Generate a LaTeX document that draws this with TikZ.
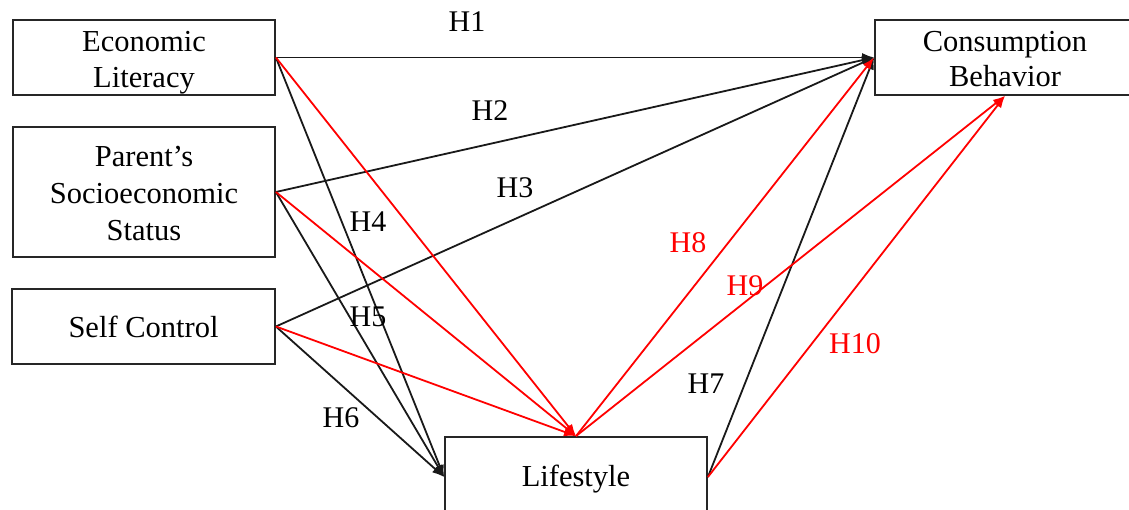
\documentclass[tikz,border=0pt]{standalone}
\usepackage{fontspec}
\setmainfont{Liberation Serif}
\usetikzlibrary{arrows.meta}
\definecolor{hred}{RGB}{255,0,0}
\begin{document}
\begin{tikzpicture}[x=1pt,y=-1pt,
  box/.style={draw=black!85,line width=1.8pt,inner sep=0pt},
  txt/.style={inner sep=0pt,align=center,font=\fontsize{30.5}{36}\selectfont},
  lbl/.style={inner sep=0pt,font=\fontsize{30}{35}\selectfont},
  blk/.style={draw=black!90,line width=1.8pt,-{Latex[length=12pt,width=9pt]}},
  rd/.style={draw=hred,line width=1.8pt,-{Latex[length=12pt,width=9pt]}}]
\useasboundingbox (0,0) rectangle (1129,510);
\node[box,minimum width=262pt,minimum height=75pt,
  label={[txt,yshift=-5pt]center:Economic\\Literacy}] (el) at (144,57.5) {};
\node[box,minimum width=262pt,minimum height=130pt,
  label={[txt,yshift=-2pt,font=\fontsize{30.5}{37}\selectfont]center:Parent’s\\Socioeconomic\\Status}] (ps) at (144,192) {};
\node[box,minimum width=263pt,minimum height=75pt,
  label={[txt,yshift=0pt]center:Self Control}] (sc) at (143.5,326.5) {};
\node[box,minimum width=260pt,minimum height=75pt,
  label={[txt,yshift=-2pt,font=\fontsize{30.5}{35}\selectfont]center:Consumption\\Behavior}] (cb) at (1005,57.5) {};
\node[box,minimum width=262pt,minimum height=80pt,
  label={[txt,yshift=-2pt]center:Lifestyle}] (ls) at (576,477) {};
% black paths
\draw[blk] (el.east) -- (cb.west);
\draw[blk] (ps.east) -- (cb.west);
\draw[blk] (sc.east) -- (cb.west);
\draw[blk] (el.east) -- (ls.west);
\draw[blk] (ps.east) -- (ls.west);
\draw[blk] (sc.east) -- (ls.west);
\draw[blk] (ls.east) -- (cb.west);
% red paths
\draw[rd] (el.east) -- (ls.north);
\draw[rd] (ps.east) -- (ls.north);
\draw[rd] (sc.east) -- (ls.north);
\draw[rd] (ls.north) -- (cb.west);
\draw[rd] (ls.north) -- (cb.south);
\draw[rd] (ls.east) -- (cb.south);
% labels
\node[lbl] (h1) at (467,22) {H1};
\node[lbl] (h2) at (490,111) {H2};
\node[lbl] (h3) at (515,188) {H3};
\node[lbl] (h4) at (368,222) {H4};
\node[lbl] (h5) at (368,317) {H5};
\node[lbl] (h6) at (341,418) {H6};
\node[lbl] (h7) at (706,384) {H7};
\node[lbl,text=hred] (h8) at (688,243) {H8};
\node[lbl,text=hred] (h9) at (745,286) {H9};
\node[lbl,text=hred] (h10) at (855,344) {H10};
\end{tikzpicture}
\end{document}
